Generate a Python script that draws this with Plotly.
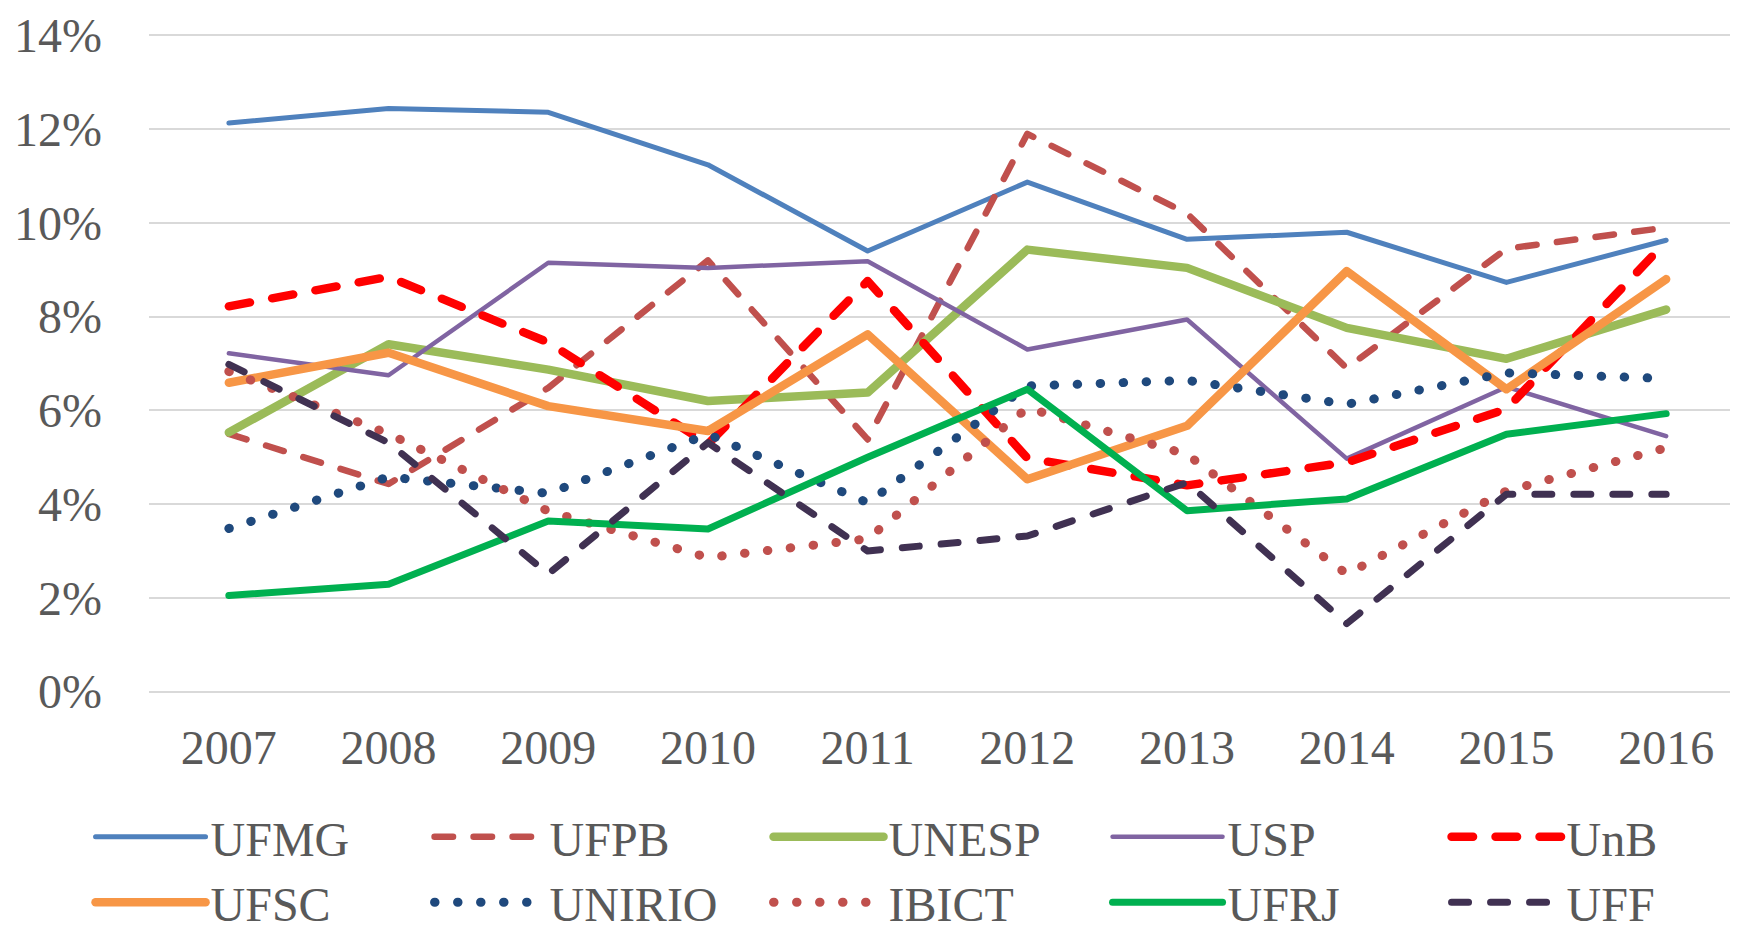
import plotly.graph_objects as go

years = ["2007", "2008", "2009", "2010", "2011", "2012", "2013", "2014", "2015", "2016"]

ufmg = [12.13, 12.44, 12.36, 11.24, 9.40, 10.87, 9.65, 9.80, 8.73, 9.63]
ufpb = [5.50, 4.43, 6.48, 9.20, 5.38, 11.90, 10.20, 6.90, 9.45, 9.90]
unesp = [5.53, 7.41, 6.87, 6.20, 6.38, 9.43, 9.04, 7.76, 7.10, 8.15]
usp = [7.22, 6.75, 9.15, 9.04, 9.18, 7.30, 7.94, 4.97, 6.50, 5.45]
unb = [8.22, 8.85, 7.45, 5.28, 8.76, 4.98, 4.40, 4.89, 6.03, 9.60]
ufsc = [6.59, 7.23, 6.09, 5.56, 7.62, 4.53, 5.67, 8.97, 6.45, 8.80]
unirio = [3.48, 4.58, 4.23, 5.49, 4.03, 6.52, 6.64, 6.13, 6.80, 6.68]
ibict = [6.83, 5.50, 3.85, 2.86, 3.26, 6.05, 5.06, 2.51, 4.28, 5.20]
ufrj = [2.05, 2.29, 3.64, 3.47, 5.00, 6.45, 3.86, 4.11, 5.49, 5.93]
uff = [6.98, 5.31, 2.51, 5.31, 3.00, 3.32, 4.46, 1.45, 4.21, 4.21]

y_ticks = [0, 2, 4, 6, 8, 10, 12, 14]
y_tick_labels = [f"{v}%" for v in y_ticks]

series = [
    ("UFMG", ufmg, "#4F81BD", 5, "solid"),
    ("UFPB", ufpb, "#C0504D", 6.5, "18.5px,20.5px"),
    ("UNESP", unesp, "#9BBB59", 8.5, "solid"),
    ("USP", usp, "#8064A2", 4.5, "solid"),
    ("UnB", unb, "#FF0000", 8.5, "21.5px,22.5px"),
    ("UFSC", ufsc, "#F79646", 8.5, "solid"),
    ("UNIRIO", unirio, "#1F497D", 9, "0.5px,22.5px"),
    ("IBICT", ibict, "#C0504D", 9, "0.5px,22.5px"),
    ("UFRJ", ufrj, "#00B050", 7, "solid"),
    ("UFF", uff, "#403152", 7, "17px,22px"),
]

fig = go.Figure()
for name, vals, color, width, dash in series:
    fig.add_trace(go.Scatter(
        x=years, y=vals, name=name, mode="lines",
        line=dict(color=color, width=width, dash=dash),
    ))

font_family = "Liberation Serif, Times New Roman, serif"
text_color = "#595959"

fig.update_layout(
    width=1738, height=931,
    margin=dict(l=141, r=0, t=26, b=246, autoexpand=False),
    paper_bgcolor="white", plot_bgcolor="white",
    font=dict(family=font_family, size=48, color=text_color),
    showlegend=True,
    legend=dict(
        orientation="h", x=-0.0366, xanchor="left", y=-0.161, yanchor="top",
        font=dict(family=font_family, size=48, color=text_color),
        entrywidth=214, entrywidthmode="pixels", itemwidth=110,
        traceorder="normal", bgcolor="rgba(0,0,0,0)",
    ),
    xaxis=dict(
        type="category", range=[-0.5, 9.5], showgrid=False, zeroline=False,
        showline=False, ticks="", ticklabelstandoff=22,
        tickfont=dict(family=font_family, size=48, color=text_color),
    ),
    yaxis=dict(
        range=[-0.03, 14.03], tickmode="array", tickvals=y_ticks,
        ticktext=y_tick_labels, showgrid=True,
        gridcolor="#D9D9D9", gridwidth=2, zeroline=False, showline=False,
        ticks="", ticklabelstandoff=46,
        tickfont=dict(family=font_family, size=48, color=text_color),
    ),
)

round_caps_js = """
var gd = document.getElementById('{plot_id}');
function roundCaps() {
  gd.querySelectorAll('.scatterlayer path.js-line, .legend path').forEach(function (p) {
    p.style.strokeLinecap = 'round';
    p.style.strokeLinejoin = 'round';
  });
}
roundCaps();
if (gd.on) { gd.on('plotly_afterplot', roundCaps); }
"""

fig.write_html("out.html", post_script=round_caps_js)
